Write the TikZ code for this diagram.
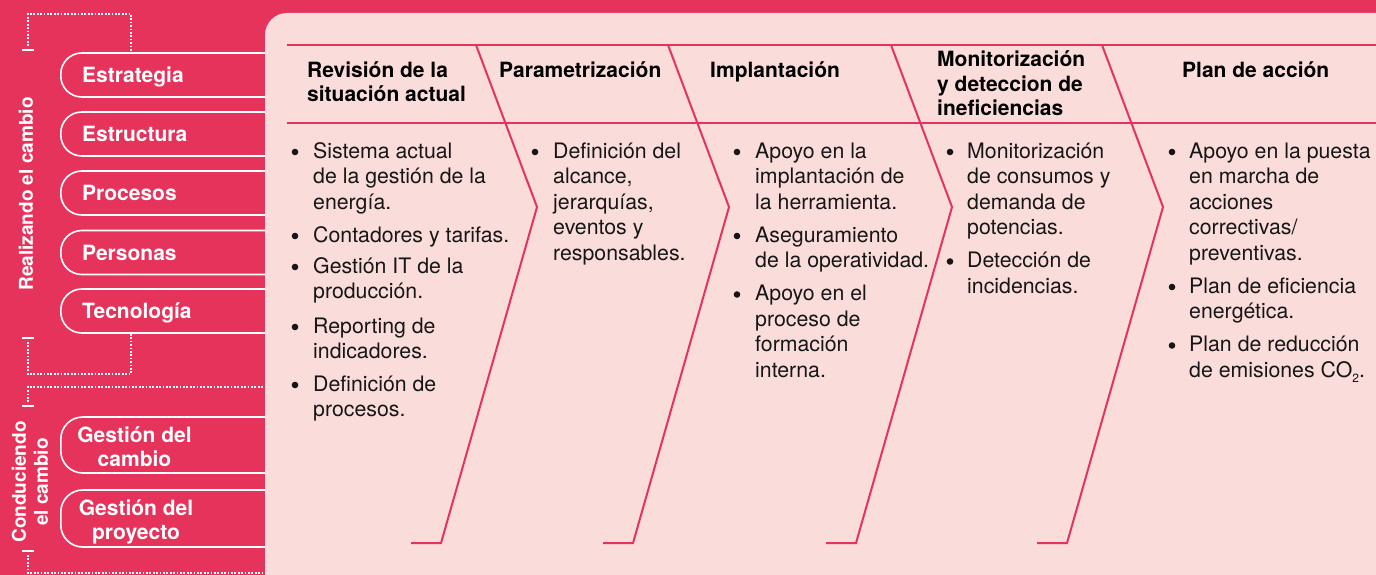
\documentclass[tikz,border=0pt]{standalone}
\usepackage{fontspec}
\setmainfont{TeX Gyre Heros}
\definecolor{crim}{HTML}{E5335B}
\definecolor{panelpink}{HTML}{FADCDB}
\definecolor{ink}{HTML}{161616}
\begin{document}
\begin{tikzpicture}[x=1pt,y=-1pt,
  dots/.style={draw=white, line width=1.7pt, dash pattern=on 1.7pt off 1.7pt},
  tickbar/.style={draw=white, line width=2pt},
  pill/.style={draw=white, line width=1.6pt, rounded corners=21pt, inner sep=0pt, anchor=west},
  pilltext/.style={text=white, font=\bfseries\fontsize{21}{24}\selectfont, inner sep=0pt},
  sidetext/.style={text=white, font=\bfseries\fontsize{19}{22}\selectfont, inner sep=0pt, rotate=90, align=center},
  rl/.style={draw=crim, line width=2pt},
  hdr/.style={text=black, font=\bfseries\fontsize{21}{25}\selectfont, inner sep=0pt, anchor=base west},
  body/.style={text=ink, font=\fontsize{21.3}{25.5}\selectfont, inner sep=0pt, anchor=base west},
  bul/.style={fill=ink}
]
\useasboundingbox (0,0) rectangle (1376,575);
\clip (0,0) rectangle (1376,575);
\fill[crim] (0,0) rectangle (1376,575);

% dotted brackets
\coordinate (b1a) at (28,46);
\coordinate (b1b) at (28,14);
\coordinate (b1c) at (131,14);
\coordinate (b1d) at (131,53);
\draw[dots] (b1a) -- (b1b) -- (b1c) -- (b1d);
\draw[tickbar] (22,50) -- (34,50);

\coordinate (b2a) at (28,342);
\coordinate (b2b) at (28,374);
\coordinate (b2c) at (131,374);
\coordinate (b2d) at (131,334);
\draw[dots] (b2a) -- (b2b) -- (b2c) -- (b2d);
\draw[tickbar] (22,338) -- (34,338);

\coordinate (b3a) at (28,402);
\coordinate (b3b) at (28,387);
\coordinate (b3c) at (270,387);
\draw[dots] (b3a) -- (b3b) -- (b3c);
\draw[tickbar] (22,406) -- (34,406);

\coordinate (b4a) at (28,555);
\coordinate (b4b) at (28,573);
\coordinate (b4c) at (270,573);
\draw[dots] (b4a) -- (b4b) -- (b4c);
\draw[tickbar] (22,551) -- (34,551);

% side labels
\node[sidetext] (realiz) at (26,194) {Realizando el cambio};
\node[sidetext] (conduc) at (30,482) {Conduciendo\\el cambio};

% pills
\node[pill, minimum width=260pt, minimum height=44pt] (p1) at (60,75) {};
\node[pill, minimum width=260pt, minimum height=44pt] (p2) at (60,134) {};
\node[pill, minimum width=260pt, minimum height=44pt] (p3) at (60,193) {};
\node[pill, minimum width=260pt, minimum height=44pt] (p4) at (60,252.5) {};
\node[pill, minimum width=260pt, minimum height=44pt] (p5) at (60,311) {};
\node[pill, minimum width=260pt, minimum height=56pt, rounded corners=22pt] (p6) at (60,445) {};
\node[pill, minimum width=260pt, minimum height=57pt, rounded corners=22pt] (p7) at (60,518.5) {};

\node[pilltext, anchor=base west] (t1) at (82,82.5) {Estrategia};
\node[pilltext, anchor=base west] (t2) at (82,141.5) {Estructura};
\node[pilltext, anchor=base west] (t3) at (82,200.5) {Procesos};
\node[pilltext, anchor=base west] (t4) at (82,260) {Personas};
\node[pilltext, anchor=base west] (t5) at (82,318.5) {Tecnología};
\node[pilltext, anchor=base] (t6a) at (134.5,442) {Gestión del};
\node[pilltext, anchor=base] (t6b) at (134.5,466) {cambio};
\node[pilltext, anchor=base] (t7a) at (136,515) {Gestión del};
\node[pilltext, anchor=base] (t7b) at (136,539) {proyecto};

% panel
\fill[panelpink, rounded corners=22pt] (265,13) rectangle (1440,640);

% header lines
\draw[rl] (287,45) -- (1376,45);
\draw[rl] (287,123) -- (1376,123);

% dividers
\foreach \a [count=\i] in {537,729,952,1163} {
  \coordinate (d\i top) at ({\a-61},45);
  \coordinate (d\i apex) at (\a,207);
  \coordinate (d\i bot) at ({\a-96},543);
  \coordinate (d\i end) at ({\a-126},543);
  \draw[rl, line join=miter] (d\i top) -- (d\i apex) -- (d\i bot) -- (d\i end);
}

% headers
\node[hdr] (h1a) at (307,78) {Revisión de la};
\node[hdr] (h1b) at (307,102) {situación actual};
\node[hdr] (h2) at (499,78) {Parametrización};
\node[hdr] (h3) at (710,78) {Implantación};
\node[hdr] (h4a) at (937,67) {Monitorización};
\node[hdr] (h4b) at (937,92) {y deteccion de};
\node[hdr] (h4c) at (937,116) {ineficiencias};
\node[hdr] (h5) at (1182,78) {Plan de acción};

% column 1
\foreach \y/\t [count=\i] in {158/Sistema actual, 183.5/de la gestión de la, 209/energía., 242/Contadores y tarifas., 273/Gestión IT de la, 298.5/producción., 333/Reporting de, 358.5/indicadores., 391/Definición de, 416.5/procesos.}
  \node[body] (ca\i) at (313,\y) {\t};
\foreach \y in {152,236,267,327,385} \fill[bul] (295,\y) circle[radius=3.3pt];

% column 2
\foreach \y/\t [count=\i] in {158/Definición del, 183.5/{alcance,}, 209/{jerarquías,}, 234.5/eventos y, 260/responsables.}
  \node[body] (cb\i) at (553,\y) {\t};
\foreach \y in {152} \fill[bul] (535,\y) circle[radius=3.3pt];

% column 3
\foreach \y/\t [count=\i] in {158/Apoyo en la, 183.5/implantación de, 209/la herramienta., 242/Aseguramiento, 267.5/de la operatividad., 300.5/Apoyo en el, 326/proceso de, 351.5/formación, 377/interna.}
  \node[body] (cc\i) at (755,\y) {\t};
\foreach \y in {152,236,294.5} \fill[bul] (737,\y) circle[radius=3.3pt];

% column 4
\foreach \y/\t [count=\i] in {158/Monitorización, 183.5/de consumos y, 209/demanda de, 234.5/potencias., 267.5/Detección de, 293/incidencias.}
  \node[body] (cd\i) at (967,\y) {\t};
\foreach \y in {152,261.5} \fill[bul] (950,\y) circle[radius=3.3pt];

% column 5
\foreach \y/\t [count=\i] in {158/Apoyo en la puesta, 183.5/en marcha de, 209/acciones, 234.5/{correctivas/}, 260/preventivas., 293/Plan de eficiencia, 318.5/energética., 351.5/Plan de reducción, 377/{de emisiones CO\raisebox{-5pt}{\fontsize{12}{12}\selectfont 2}.}}
  \node[body] (ce\i) at (1189,\y) {\t};
\foreach \y in {152,287,345.5} \fill[bul] (1172,\y) circle[radius=3.3pt];
\end{tikzpicture}
\end{document}
